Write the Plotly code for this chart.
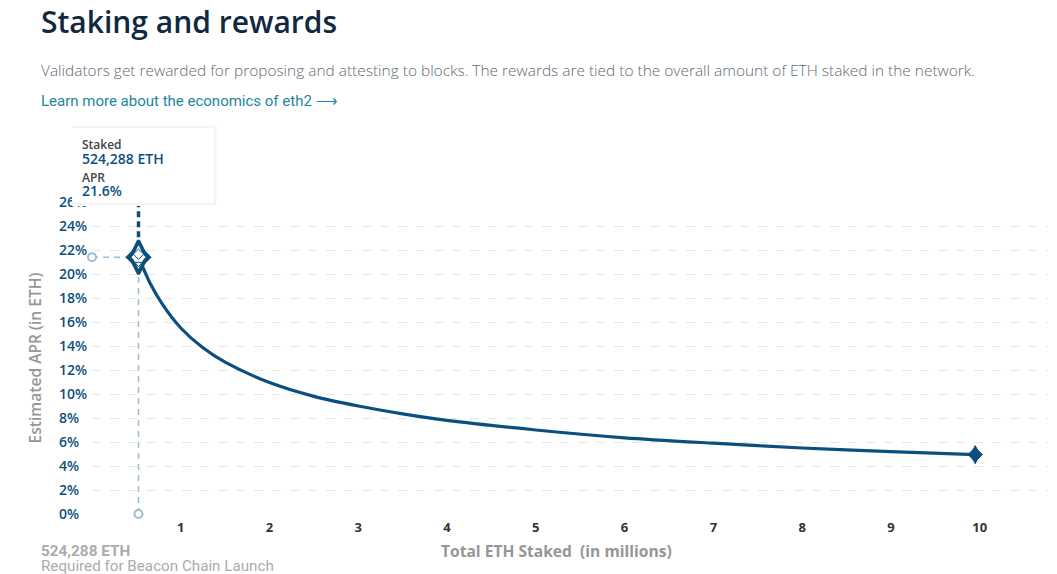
import plotly.graph_objects as go

W, H = 1057, 574
L, R, T, B = 92, 1048, 202, 514

staked_millions = [0.524, 0.65, 0.8, 1, 1.25, 1.5, 2, 2.5, 3, 3.5, 4, 5, 6, 7, 8, 9, 9.95]
apr_percent = [21.4, 19.3, 17.4, 15.5, 13.85, 12.65, 10.95, 9.8, 9.0, 8.35, 7.8, 7.0, 6.35, 5.9, 5.5, 5.2, 4.95]
launch_staked = 0.524
launch_apr = 21.4
end_staked = 9.95
end_apr = 4.95
x_ticks = [1, 2, 3, 4, 5, 6, 7, 8, 9, 10]
y_ticks = list(range(0, 28, 2))
y_labels = [f"{v}%" + ("\u2007" if v < 10 else "") for v in y_ticks]

NAVY = "#0b4f7e"
GUIDE = "#9dbdd3"
GRID = "#e6e6e6"
MUTED = "#969696"


def px(x):
    return (x - L) / (R - L)


def py(y):
    return (B - y) / (B - T)


fig = go.Figure()
fig.add_trace(go.Scatter(x=[launch_staked, launch_staked], y=[0, launch_apr], mode="lines",
                         line=dict(color=GUIDE, width=1.5, dash="6px,5px"), hoverinfo="skip"))
fig.add_trace(go.Scatter(x=[0, launch_staked], y=[launch_apr, launch_apr], mode="lines",
                         line=dict(color=GUIDE, width=1.5, dash="6px,5px"), hoverinfo="skip"))
fig.add_trace(go.Scatter(x=[launch_staked, launch_staked], y=[launch_apr, 26], mode="lines",
                         line=dict(color=NAVY, width=3.5, dash="6px,4px"), hoverinfo="skip"))
fig.add_trace(go.Scatter(x=staked_millions, y=apr_percent, mode="lines",
                         line=dict(color=NAVY, width=3.2, shape="spline", smoothing=0.8)))
fig.add_trace(go.Scatter(x=[0, launch_staked], y=[launch_apr, 0], mode="markers", cliponaxis=False,
                         marker=dict(symbol="circle", size=8, color="white", line=dict(color=GUIDE, width=2))))
# end marker: tall + square diamonds combine into the wider rounded shape
fig.add_trace(go.Scatter(x=[end_staked], y=[end_apr], mode="markers", cliponaxis=False,
                         marker=dict(symbol="diamond-tall", size=13, color=NAVY, line=dict(color=NAVY, width=1))))
fig.add_trace(go.Scatter(x=[end_staked], y=[end_apr], mode="markers", cliponaxis=False,
                         marker=dict(symbol="diamond", size=11, color=NAVY, line=dict(color=NAVY, width=1))))
# launch marker
fig.add_trace(go.Scatter(x=[launch_staked], y=[launch_apr], mode="markers", cliponaxis=False,
                         marker=dict(symbol="diamond-tall", size=24, color=NAVY, line=dict(color=NAVY, width=3))))
fig.add_trace(go.Scatter(x=[launch_staked], y=[launch_apr], mode="markers", cliponaxis=False,
                         marker=dict(symbol="diamond", size=18, color=NAVY, line=dict(color=NAVY, width=2))))
fig.add_trace(go.Scatter(x=[launch_staked], y=[launch_apr], mode="markers", cliponaxis=False,
                         marker=dict(symbol="diamond-tall", size=17, color="white", line=dict(width=0))))
fig.add_trace(go.Scatter(x=[launch_staked], y=[launch_apr], mode="markers", cliponaxis=False,
                         marker=dict(symbol="diamond", size=11, color="white", line=dict(width=0))))
fig.add_trace(go.Scatter(x=[launch_staked], y=[launch_apr + 0.25], mode="markers", cliponaxis=False,
                         marker=dict(symbol="diamond", size=8, color="white", line=dict(color=NAVY, width=1))))
fig.add_trace(go.Scatter(x=[launch_staked], y=[launch_apr - 0.55], mode="markers", cliponaxis=False,
                         marker=dict(symbol="triangle-down", size=6, color="white", line=dict(color=NAVY, width=1))))

shapes = []
for i, col in enumerate(["#fbfbfc", "#f7f7f9", "#f2f2f5"]):
    d = 3 - i
    shapes.append(dict(type="rect", xref="paper", yref="paper", layer="above",
                       x0=px(72), x1=px(214 + d), y0=py(203 + d), y1=py(128 - d),
                       fillcolor=col, line=dict(width=0)))
shapes.append(dict(type="rect", xref="paper", yref="paper", layer="above",
                   x0=px(72), x1=px(214), y0=py(203), y1=py(128),
                   fillcolor="white", line=dict(width=0)))


def note(text, x, y, size, color, family="Open Sans", weight=400, anchor="left", **kw):
    return dict(text=text, xref="paper", yref="paper", x=px(x), y=py(y), showarrow=False,
                xanchor=anchor, yanchor="middle", borderpad=0, borderwidth=0,
                font=dict(size=size, color=color, family=family, weight=weight), **kw)


annotations = [
    note("Staking and rewards", 41, 21, 30, "#11293f", weight=600),
    note("Validators get rewarded for proposing and attesting to blocks. The rewards are tied to the overall amount of ETH staked in the network.",
         41, 70, 15.45, "#5f6b73", family="Open Sans", weight=300),
    note("Learn more about the economics of eth2 \u27f6", 41, 101, 15, "#1c86a0", family="Roboto"),
    note("Staked", 82, 144, 12, "#444444", weight=600),
    note("524,288 ETH", 82, 158, 14, NAVY, weight=600),
    note("APR", 82, 177, 12, "#444444", weight=600),
    note("21.6%", 82, 191, 14, NAVY, weight=600),
    note("524,288 ETH", 41, 551, 15.3, "#ababab", family="Roboto", weight=700),
    note("Required for Beacon Chain Launch", 41, 566, 15.2, "#ababab", family="Roboto"),
    note("Total ETH Staked\u00a0 (in millions)", 556, 551, 15.6, MUTED, weight=700, anchor="center"),
]

fig.update_layout(
    width=W, height=H, autosize=False, showlegend=False,
    paper_bgcolor="white", plot_bgcolor="white",
    margin=dict(l=L, r=W - R, t=T, b=H - B, pad=0),
    shapes=shapes, annotations=annotations,
    xaxis=dict(range=[0, 10.77], tickvals=x_ticks, ticktext=[str(v) for v in x_ticks],
               showgrid=False, zeroline=False, showline=False, ticks="", ticklabelstandoff=4,
               tickfont=dict(family="Open Sans", size=13, color="#333333", weight=700)),
    yaxis=dict(range=[0, 26], tickvals=y_ticks, ticktext=y_labels,
               showgrid=True, gridcolor=GRID, griddash="dash", gridwidth=1,
               zeroline=False, showline=False, ticks="", ticklabelstandoff=4,
               tickfont=dict(family="Open Sans", size=14, color=NAVY, weight=600),
               title=dict(text="Estimated APR (in ETH)", standoff=13,
                          font=dict(family="Open Sans", size=15.6, color=MUTED, weight=600))),
)
fig.write_html("out.html", post_script="document.body.style.margin='0';", config=dict(displayModeBar=False))
